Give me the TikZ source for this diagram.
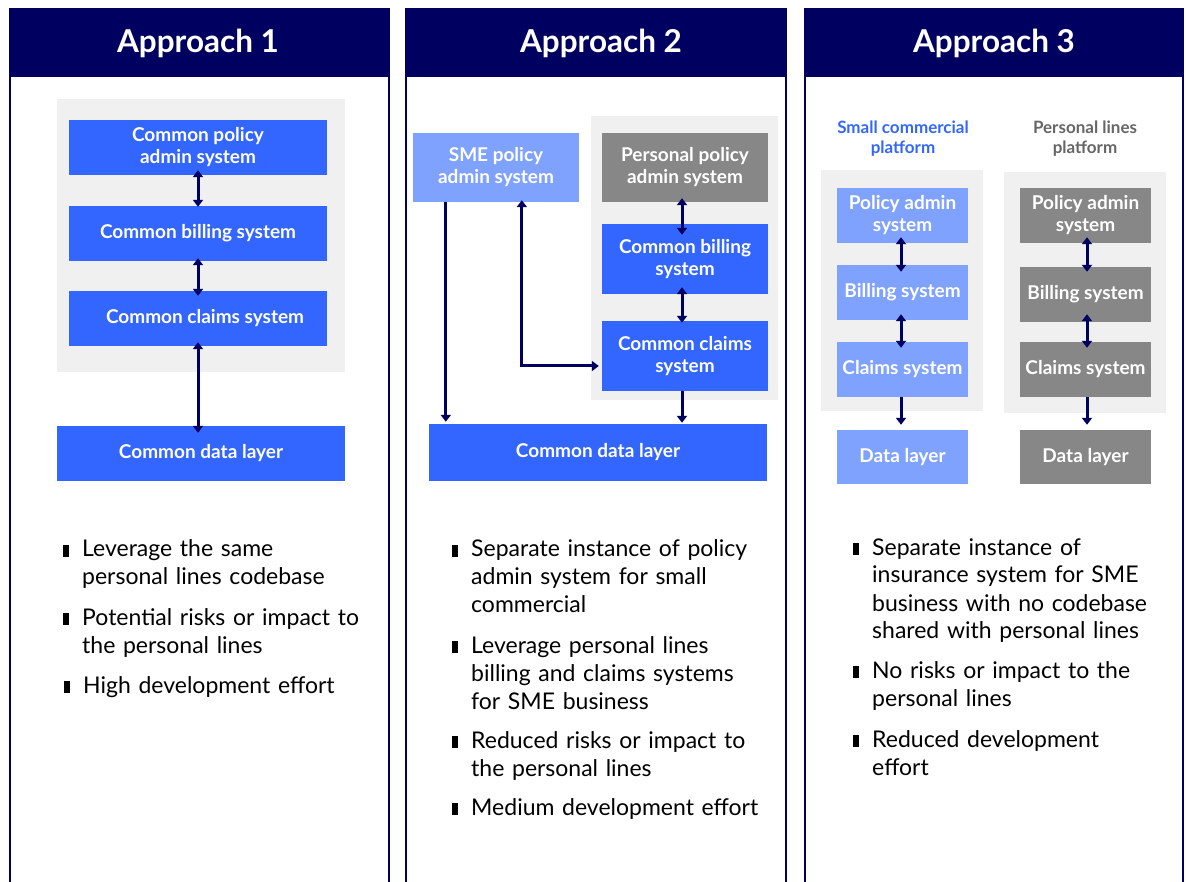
\documentclass[tikz,border=0pt]{standalone}
\usepackage{fontspec}
\setmainfont{Lato}
\usetikzlibrary{arrows.meta}
\definecolor{navy}{HTML}{000060}
\definecolor{cblue}{HTML}{3366FF}
\definecolor{lblue}{HTML}{80A2FF}
\definecolor{cgray}{HTML}{878787}
\definecolor{bggray}{HTML}{F0F0F0}
\definecolor{lgtext}{HTML}{666666}
\newcommand\mybul[4]{%
  \node[bullettext] (#1) at (#2,#3) {#4};
  \fill ([xshift=-19pt]#1.base west) rectangle +(6,-12);}
\begin{document}
\begin{tikzpicture}[x=1pt,y=-1pt,
  sysbox/.style={inner sep=1pt, text=white, align=center,
    font=\bfseries\fontsize{19}{22}\selectfont},
  bluebox/.style={sysbox, fill=cblue},
  lightbox/.style={sysbox, fill=lblue},
  graybox/.style={sysbox, fill=cgray},
  bgbox/.style={fill=bggray, inner sep=0pt},
  hdrbox/.style={fill=navy, inner sep=0pt, minimum width=379pt, minimum height=68pt},
  hdrtext/.style={text=white, anchor=base, inner sep=0pt, font=\bfseries\fontsize{31.5}{36}\selectfont},
  paneline/.style={draw=navy, line width=2pt},
  tip/.tip={Triangle[width=10pt,length=7pt]},
  dbl/.style={tip-tip, draw=navy, line width=3pt},
  sgl/.style={-tip, draw=navy, line width=3pt},
  bullettext/.style={anchor=base west, align=left, inner sep=0pt, text width=330pt,
    font=\fontsize{23}{28}\selectfont},
  platlabel/.style={align=center, inner sep=0pt, font=\bfseries\fontsize{17}{20}\selectfont},
]
\useasboundingbox (0,0) rectangle (1187,882);
\fill[white] (0,0) rectangle (1187,882);

% ---------- panel frames ----------
\node[hdrbox] (h1) at (199.5,43) {};
\node[hdrbox] (h2) at (596,43) {};
\node[hdrbox] (h3) at (994,43) {};
\draw[paneline] (10,882) -- (10,9) -- (389,9) -- (389,882);
\draw[paneline] (406,882) -- (406,9) -- (786,9) -- (786,882);
\draw[paneline] (805,882) -- (805,9) -- (1183,9) -- (1183,882);
\node[hdrtext] (t1) at (198,53) {Approach 1};
\node[hdrtext] (t2) at (601,53) {Approach 2};
\node[hdrtext] (t3) at (994,53) {Approach 3};

% ---------- Approach 1 ----------
\node[bgbox, minimum width=288pt, minimum height=273pt] (p1bg) at (201,235.5) {};
\node[bluebox, minimum width=258pt, minimum height=55pt] (p1a) at (198,147.5) {Common policy\\admin system};
\node[bluebox, minimum width=258pt, minimum height=55pt] (p1b) at (198,233.5) {Common billing system};
\node[bluebox, minimum width=258pt, minimum height=55pt] (p1c) at (198,318.5) {\hspace*{14pt}Common claims system};
\node[bluebox, minimum width=288pt, minimum height=55pt] (p1d) at (201,453.5) {Common data layer};
\coordinate (p1x) at (p1c.south |- p1d.north);
\draw[dbl] ([yshift=5pt]p1a.south) -- ([yshift=-1pt]p1b.north);
\draw[dbl] ([yshift=3pt]p1b.south) -- ([yshift=-5pt]p1c.north);
\draw[dbl] ([yshift=4pt]p1c.south) -- ([yshift=-7pt]p1x);

% ---------- Approach 2 ----------
\node[bgbox, minimum width=187pt, minimum height=284pt] (p2bg) at (684.5,258) {};
\node[lightbox, minimum width=166pt, minimum height=69pt] (p2sme) at (496,167.5) {SME policy\\admin system};
\node[graybox, minimum width=166pt, minimum height=69pt] (p2pers) at (685,167.5) {Personal policy\\admin system};
\node[bluebox, minimum width=166pt, minimum height=70pt] (p2bill) at (685,259) {Common billing\\system};
\node[bluebox, minimum width=166pt, minimum height=70pt] (p2claims) at (685,356) {Common claims\\system};
\node[bluebox, minimum width=338pt, minimum height=57pt] (p2data) at (598,452.5) {Common data layer};
\draw[dbl] ([xshift=-3pt,yshift=4pt]p2pers.south) -- ([xshift=-3pt,yshift=-11pt]p2bill.north);
\draw[dbl] ([xshift=-3pt,yshift=7pt]p2bill.south) -- ([xshift=-3pt,yshift=-2pt]p2claims.north);
\draw[sgl] ([xshift=-3pt]p2claims.south) -- ([xshift=84pt,yshift=1pt]p2data.north);
\coordinate (smeA) at ([xshift=33pt]p2sme.south west);
\coordinate (smeB) at (smeA |- p2data.north);
\coordinate (smeC) at ([xshift=109pt]p2sme.south west);
\draw[sgl] (smeA) -- ([yshift=2pt]smeB);
\draw[dbl] ([yshift=2pt]smeC) |- ([xshift=-3pt,yshift=-10pt]p2claims.west);

% ---------- Approach 3 ----------
\node[platlabel, text=cblue] (l3a) at (903,139) {Small commercial\\platform};
\node[platlabel, text=lgtext] (l3b) at (1085,139) {Personal lines\\platform};
\node[bgbox, minimum width=162pt, minimum height=241pt] (p3lbg) at (902,290.5) {};
\node[bgbox, minimum width=162pt, minimum height=241pt] (p3rbg) at (1085,292.5) {};
\node[lightbox, minimum width=131pt, minimum height=55pt] (p3la) at (902.5,215.5) {Policy admin\\system};
\node[lightbox, minimum width=131pt, minimum height=55pt] (p3lb) at (902.5,292.5) {Billing system};
\node[lightbox, minimum width=131pt, minimum height=55pt] (p3lc) at (902.5,369.5) {Claims system};
\node[lightbox, minimum width=131pt, minimum height=54pt] (p3ld) at (902.5,457) {Data layer};
\node[graybox, minimum width=131pt, minimum height=55pt] (p3ra) at (1085.5,215.5) {Policy admin\\system};
\node[graybox, minimum width=131pt, minimum height=55pt] (p3rb) at (1085.5,294.5) {Billing system};
\node[graybox, minimum width=131pt, minimum height=55pt] (p3rc) at (1085.5,369.5) {Claims system};
\node[graybox, minimum width=131pt, minimum height=54pt] (p3rd) at (1085.5,457) {Data layer};
\draw[dbl] ([xshift=-1.5pt,yshift=6pt]p3la.south) -- ([xshift=-1.5pt,yshift=-7pt]p3lb.north);
\draw[dbl] ([xshift=-1.5pt,yshift=6pt]p3lb.south) -- ([xshift=-1.5pt,yshift=-6pt]p3lc.north);
\draw[sgl] ([xshift=-1.5pt]p3lc.south) -- ([xshift=-1.5pt,yshift=5pt]p3ld.north);
\draw[dbl] ([xshift=1.5pt,yshift=6pt]p3ra.south) -- ([xshift=1.5pt,yshift=-5pt]p3rb.north);
\draw[dbl] ([xshift=1.5pt,yshift=8pt]p3rb.south) -- ([xshift=1.5pt,yshift=-6pt]p3rc.north);
\draw[sgl] ([xshift=1.5pt]p3rc.south) -- ([xshift=1.5pt,yshift=5pt]p3rd.north);

% ---------- bullets ----------
\mybul{b11}{82}{557}{Leverage the same\\personal lines codebase}
\mybul{b12}{82}{625}{Potential risks or impact to\\the personal lines}
\mybul{b13}{83}{693}{High development effort}
\mybul{b21}{471}{557}{Separate instance of policy\\admin system for small\\commercial}
\mybul{b22}{471}{653}{Leverage personal lines\\billing and claims systems\\for SME business}
\mybul{b23}{471}{748}{Reduced risks or impact to\\the personal lines}
\mybul{b24}{471}{815}{Medium development effort}
\mybul{b31}{872}{555}{Separate instance of\\insurance system for SME\\business with no codebase\\shared with personal lines}
\mybul{b32}{872}{678}{No risks or impact to the\\personal lines}
\mybul{b33}{872}{747}{Reduced development\\effort}
\end{tikzpicture}
\end{document}
